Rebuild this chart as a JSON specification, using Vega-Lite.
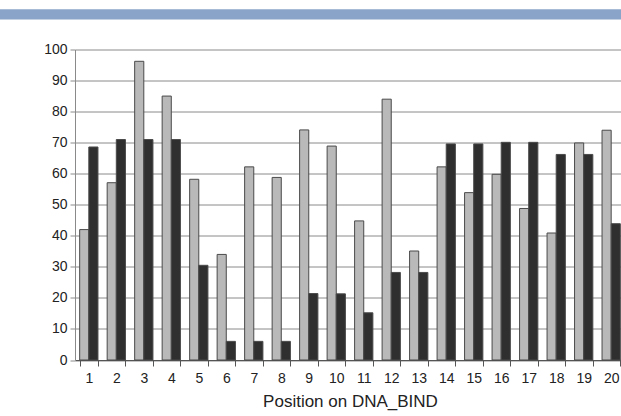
{
  "$schema": "https://vega.github.io/schema/vega-lite/v6.json",
  "width": 550,
  "height": 310.5,
  "autosize": "none",
  "padding": {"left": 75, "top": 49.5, "right": 0, "bottom": 56},
  "background": "white",
  "config": {
    "view": {"stroke": null},
    "font": "Liberation Sans",
    "axis": {
      "labelFont": "Liberation Sans",
      "titleFont": "Liberation Sans",
      "labelColor": "#222222",
      "titleColor": "#222222",
      "titleFontWeight": "normal"
    },
    "axisY": {
      "title": "Percentage",
      "values": [0, 10, 20, 30, 40, 50, 60, 70, 80, 90, 100],
      "labelOverlap": false,
      "grid": true,
      "gridColor": "#8a8a8a",
      "gridOpacity": 1,
      "domainColor": "#8a8a8a",
      "tickColor": "#8a8a8a",
      "tickSize": 5,
      "labelFontSize": 14,
      "labelPadding": 3,
      "titleFontSize": 17,
      "titlePadding": 10
    }
  },
  "datasets": {
    "bars": [
      {"pos": 1, "series": "series 1", "value": 42},
      {"pos": 1, "series": "series 2", "value": 68.6},
      {"pos": 2, "series": "series 1", "value": 57.1},
      {"pos": 2, "series": "series 2", "value": 71},
      {"pos": 3, "series": "series 1", "value": 96.2},
      {"pos": 3, "series": "series 2", "value": 71},
      {"pos": 4, "series": "series 1", "value": 85},
      {"pos": 4, "series": "series 2", "value": 71},
      {"pos": 5, "series": "series 1", "value": 58.2},
      {"pos": 5, "series": "series 2", "value": 30.5},
      {"pos": 6, "series": "series 1", "value": 34},
      {"pos": 6, "series": "series 2", "value": 6},
      {"pos": 7, "series": "series 1", "value": 62.2},
      {"pos": 7, "series": "series 2", "value": 6},
      {"pos": 8, "series": "series 1", "value": 58.8},
      {"pos": 8, "series": "series 2", "value": 6},
      {"pos": 9, "series": "series 1", "value": 74.1},
      {"pos": 9, "series": "series 2", "value": 21.4},
      {"pos": 10, "series": "series 1", "value": 68.9},
      {"pos": 10, "series": "series 2", "value": 21.3},
      {"pos": 11, "series": "series 1", "value": 44.8},
      {"pos": 11, "series": "series 2", "value": 15.2},
      {"pos": 12, "series": "series 1", "value": 84},
      {"pos": 12, "series": "series 2", "value": 28.2},
      {"pos": 13, "series": "series 1", "value": 35.1},
      {"pos": 13, "series": "series 2", "value": 28.2},
      {"pos": 14, "series": "series 1", "value": 62.2},
      {"pos": 14, "series": "series 2", "value": 69.6},
      {"pos": 15, "series": "series 1", "value": 53.9},
      {"pos": 15, "series": "series 2", "value": 69.6},
      {"pos": 16, "series": "series 1", "value": 59.8},
      {"pos": 16, "series": "series 2", "value": 70.1},
      {"pos": 17, "series": "series 1", "value": 48.8},
      {"pos": 17, "series": "series 2", "value": 70.1},
      {"pos": 18, "series": "series 1", "value": 40.9},
      {"pos": 18, "series": "series 2", "value": 66.2},
      {"pos": 19, "series": "series 1", "value": 69.9},
      {"pos": 19, "series": "series 2", "value": 66.2},
      {"pos": 20, "series": "series 1", "value": 74},
      {"pos": 20, "series": "series 2", "value": 43.9}
    ]
  },
  "layer": [
    {
      "data": {"name": "bars"},
      "mark": {"type": "bar", "stroke": "#4a4a4a", "strokeWidth": 1},
      "encoding": {
        "x": {
          "field": "pos",
          "type": "ordinal",
          "scale": {"paddingInner": 0.335, "paddingOuter": 0.17},
          "axis": {
            "title": "Position on DNA_BIND",
            "labelAngle": 0,
            "labelFontSize": 14,
            "titleFontSize": 17,
            "tickBand": "extent",
            "tickSize": 6,
            "tickColor": "#555555",
            "domainColor": "#555555",
            "labelPadding": 5,
            "titlePadding": 8
          }
        },
        "xOffset": {"field": "series", "type": "nominal", "sort": ["series 1", "series 2"]},
        "y": {
          "field": "value",
          "type": "quantitative",
          "scale": {"domain": [0, 100], "nice": false}
        },
        "color": {
          "field": "series",
          "type": "nominal",
          "scale": {"domain": ["series 1", "series 2"], "range": ["#b9b9b9", "#2f2f2f"]},
          "legend": null
        }
      }
    },
    {
      "data": {"values": [{}]},
      "mark": {"type": "rect", "color": "#8aa3c8", "clip": false},
      "encoding": {
        "x": {"datum": -0.14, "type": "quantitative", "scale": {"domain": [0, 1]}, "axis": null},
        "x2": {"datum": 1.1},
        "y": {"datum": 109.7, "type": "quantitative", "scale": {"domain": [0, 100], "nice": false}},
        "y2": {"datum": 113.0}
      }
    }
  ],
  "resolve": {"scale": {"x": "independent"}}
}
